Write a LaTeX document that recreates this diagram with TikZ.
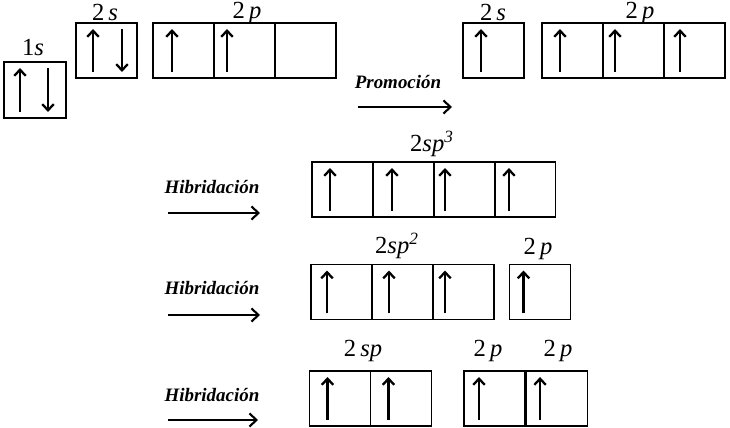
\documentclass[tikz,border=0pt]{standalone}
\usepackage{fontspec}
\setmainfont{Liberation Serif}
\usetikzlibrary{positioning}
\usetikzlibrary{calc}
\usetikzlibrary{arrows.meta}

\begin{document}
\begin{tikzpicture}[x=0.02cm, y=-0.02cm,
    cell/.style={draw, line width=0.6pt, minimum width=1.22cm, minimum height=1.1cm, inner sep=0pt, outer sep=0pt},
    spin/.style={line width=1.3pt, -{Straight Barb[length=3.5pt,width=6.5pt]}},
    orb/.style={font=\fontsize{14}{16}\selectfont, inner sep=0.5pt},
    proc/.style={font=\bfseries\itshape\fontsize{10.8}{12}\selectfont},
    go/.style={line width=1.2pt, -{Straight Barb[length=4pt,width=7.5pt]}}]

    \useasboundingbox (0,0) rectangle (730,428);

    % ground state
    \node [cell, minimum width=1.24cm, minimum height=1.12cm] (a1s) at (35,90) {};
    \node [cell] (a2s) at (106.5,50.5) {};
    \node [cell] (a2p1) at (183.5,50.5) {};
    \node [cell, right=0pt of a2p1] (a2p2) {};
    \node [cell, right=0pt of a2p2] (a2p3) {};

    \node [orb] (l1s) at (33,48) {1\textit{s}};
    \node [orb] (l2s) at (105,12) {2\,\textit{s}};
    \node [orb] (l2p) at (247,12.5) {2\,\textit{p}};

    % promoted state
    \node [cell] (b2s) at (493.5,50.5) {};
    \node [cell] (b2p1) at (572.5,50.5) {};
    \node [cell, right=0pt of b2p1] (b2p2) {};
    \node [cell, right=0pt of b2p2] (b2p3) {};

    \node [orb] (m2s) at (493,12) {2\,\textit{s}};
    \node [orb] (m2p) at (640,12.5) {2\,\textit{p}};

    \coordinate (p0) at (358,107);
    \coordinate (p1) at (452,107);
    \draw [go] (p0) -- (p1);
    \node [proc] (prom) at (398,82) {Promoción};

    % sp3
    \node [cell] (c1) at (342.5,189.5) {};
    \node [cell, right=0pt of c1] (c2) {};
    \node [cell, right=0pt of c2] (c3) {};
    \node [cell, right=0pt of c3] (c4) {};
    \node [orb] (lsp3) at (432,144) {2\textit{sp}$^{\mathit{3}}$};

    \coordinate (h10) at (168,213);
    \coordinate (h11) at (260,213);
    \draw [go] (h10) -- (h11);
    \node [proc] (hib1) at (212,187) {Hibridación};

    % sp2
    \node [cell] (d1) at (341.5,292) {};
    \node [cell, right=0pt of d1] (d2) {};
    \node [cell, right=0pt of d2] (d3) {};
    \node [cell] (dp) at (540,292) {};
    \node [orb] (lsp2) at (397,246) {2\textit{sp}$^{\mathit{2}}$};
    \node [orb] (ldp) at (538,249) {2\,\textit{p}};

    \coordinate (h20) at (168,315);
    \coordinate (h21) at (260,315);
    \draw [go] (h20) -- (h21);
    \node [proc] (hib2) at (212,288) {Hibridación};

    % sp
    \node [cell] (e1) at (340,398.5) {};
    \node [cell, right=0pt of e1] (e2) {};
    \node [cell] (ep1) at (494.5,398.5) {};
    \node [cell, right=0.6pt of ep1] (ep2) {};
    \node [orb] (lsp) at (363,351) {2\,\textit{sp}};
    \node [orb] (lep1) at (488,351) {2\,\textit{p}};
    \node [orb] (lep2) at (558,351) {2\,\textit{p}};

    \coordinate (h30) at (168,420);
    \coordinate (h31) at (258,420);
    \draw [go] (h30) -- (h31);
    \node [proc] (hib3) at (212,395) {Hibridación};

    % electrons
    \foreach \c/\o in {a1s/16, a2s/17, a2p1/19, a2p2/13,
                       b2s/18, b2p1/18, b2p2/12, b2p3/16,
                       c1/18, c2/19, c3/11, c4/14,
                       d1/16, d2/17, d3/12, dp/14,
                       e1/18, e2/18, ep1/15, ep2/14}
        \draw [spin] ($(\c.south west)+(\o,-6)$) -- ($(\c.north west)+(\o,6)$);
    \foreach \c/\o in {a1s/44, a2s/46}
        \draw [spin] ($(\c.north west)+(\o,6)$) -- ($(\c.south west)+(\o,-6)$);

\end{tikzpicture}
\end{document}
